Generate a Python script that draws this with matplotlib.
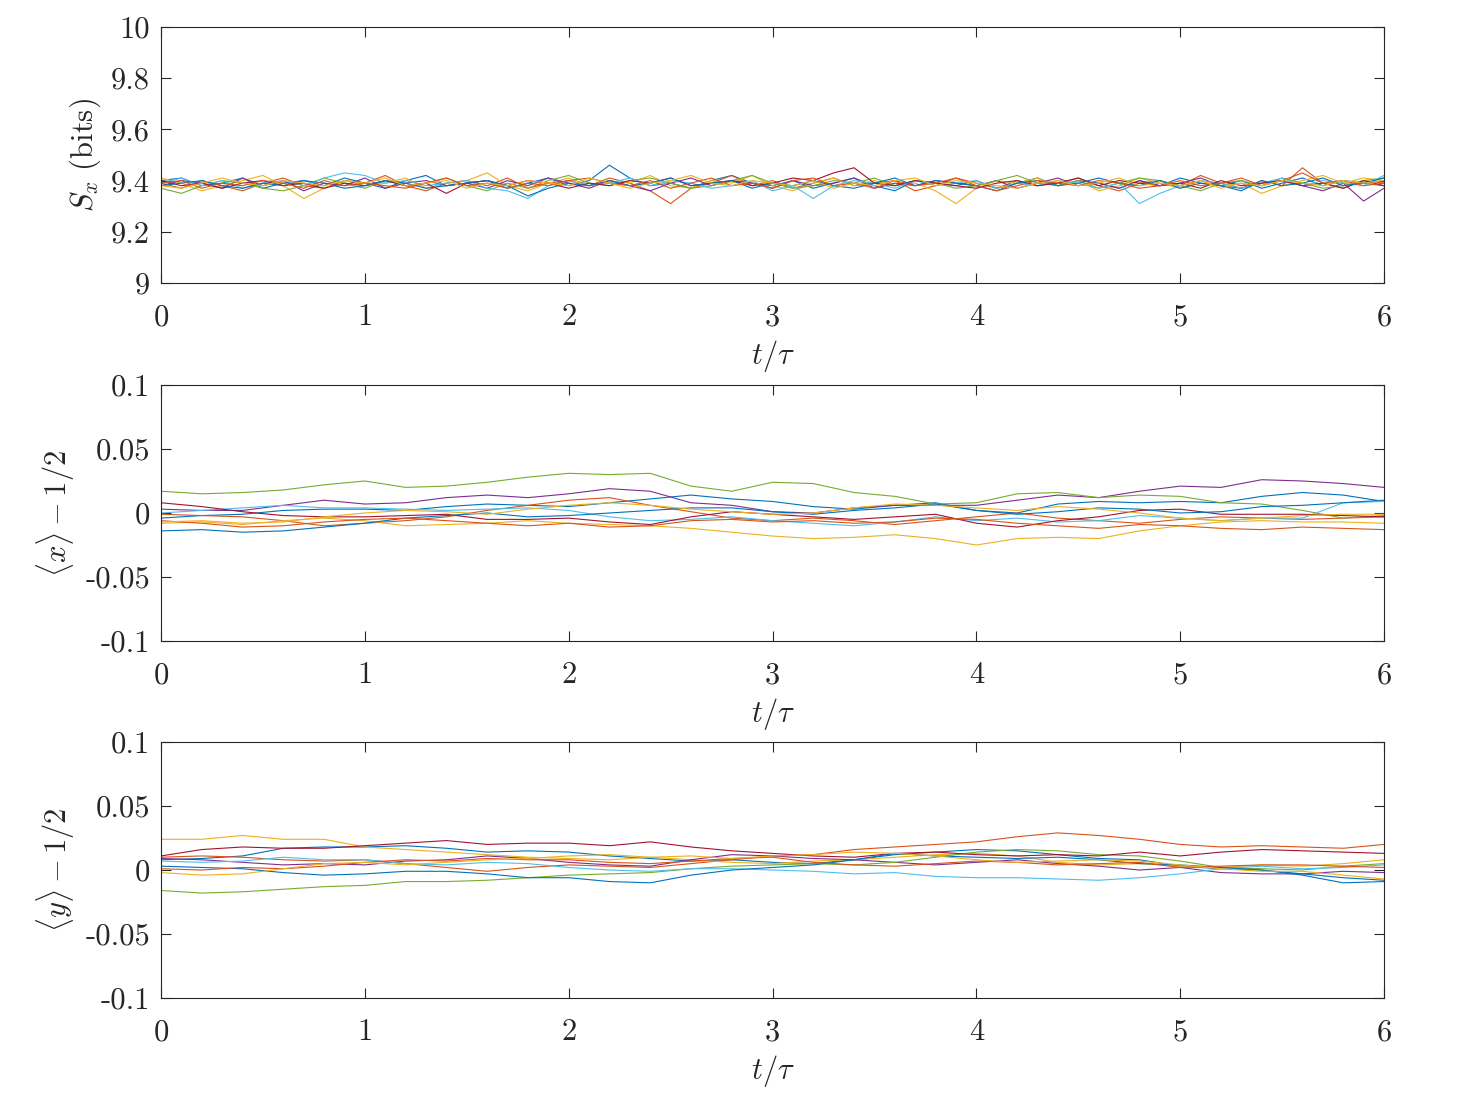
import matplotlib
matplotlib.use('Agg')
import matplotlib.pyplot as plt
import numpy as np

# MATLAB default colour order (10 runs -> 7 colours then wrap)
colors = ['#0072BD', '#D95319', '#EDB120', '#7E2F8E', '#77AC30',
          '#4DBEEE', '#A2142F', '#0072BD', '#D95319', '#EDB120']

# ---- panel 1: S_x (bits), sampled every 0.1 tau ----
sx_1 = [9.40,9.41,9.38,9.39,9.41,9.37,9.39,9.40,9.38,9.41,9.39,9.37,9.40,9.42,9.38,9.39,9.40,9.37,9.39,9.41,9.38,9.40,9.46,9.41,9.38,9.39,9.37,9.40,9.42,9.39,9.38,9.40,9.37,9.39,9.41,9.38,9.36,9.40,9.39,9.38,9.40,9.37,9.39,9.41,9.38,9.40,9.39,9.37,9.40,9.38,9.41,9.39,9.38,9.40,9.37,9.39,9.41,9.38,9.40,9.39,9.38]
sx_2 = [9.39,9.37,9.40,9.38,9.36,9.39,9.41,9.38,9.37,9.40,9.39,9.42,9.38,9.36,9.39,9.40,9.38,9.41,9.37,9.39,9.40,9.38,9.41,9.39,9.36,9.31,9.37,9.39,9.42,9.38,9.40,9.37,9.39,9.41,9.38,9.39,9.40,9.36,9.38,9.41,9.39,9.37,9.40,9.38,9.39,9.41,9.38,9.36,9.39,9.40,9.38,9.42,9.39,9.37,9.40,9.38,9.45,9.39,9.37,9.40,9.39]
sx_3 = [9.41,9.39,9.36,9.38,9.40,9.42,9.38,9.33,9.37,9.40,9.38,9.39,9.41,9.37,9.39,9.40,9.43,9.38,9.36,9.39,9.41,9.38,9.40,9.39,9.42,9.38,9.37,9.40,9.39,9.42,9.38,9.36,9.39,9.41,9.38,9.40,9.38,9.39,9.36,9.31,9.37,9.40,9.39,9.41,9.38,9.40,9.36,9.38,9.41,9.39,9.37,9.40,9.38,9.39,9.35,9.38,9.40,9.42,9.39,9.41,9.40]
sx_4 = [9.38,9.40,9.39,9.37,9.41,9.38,9.40,9.36,9.39,9.38,9.41,9.37,9.39,9.40,9.38,9.39,9.37,9.40,9.38,9.41,9.39,9.37,9.40,9.38,9.36,9.39,9.41,9.38,9.40,9.39,9.37,9.40,9.38,9.39,9.41,9.37,9.39,9.38,9.40,9.39,9.38,9.40,9.37,9.39,9.41,9.38,9.39,9.37,9.40,9.38,9.39,9.41,9.38,9.37,9.39,9.40,9.38,9.36,9.39,9.32,9.37]
sx_5 = [9.37,9.35,9.38,9.40,9.39,9.37,9.36,9.38,9.41,9.39,9.37,9.40,9.38,9.39,9.41,9.38,9.36,9.39,9.37,9.40,9.42,9.39,9.38,9.40,9.41,9.39,9.37,9.38,9.40,9.42,9.39,9.37,9.38,9.40,9.39,9.41,9.38,9.40,9.39,9.37,9.38,9.40,9.42,9.39,9.38,9.40,9.37,9.39,9.41,9.40,9.38,9.36,9.39,9.40,9.38,9.41,9.39,9.37,9.38,9.40,9.41]
sx_6 = [9.39,9.41,9.38,9.40,9.37,9.39,9.40,9.38,9.41,9.43,9.42,9.39,9.40,9.38,9.39,9.40,9.37,9.36,9.33,9.38,9.40,9.38,9.39,9.41,9.38,9.40,9.39,9.37,9.38,9.40,9.36,9.38,9.33,9.38,9.40,9.39,9.37,9.40,9.38,9.39,9.40,9.37,9.39,9.38,9.40,9.39,9.37,9.39,9.31,9.35,9.38,9.40,9.39,9.37,9.39,9.41,9.38,9.40,9.39,9.38,9.42]
sx_7 = [9.40,9.38,9.39,9.37,9.39,9.40,9.38,9.39,9.37,9.39,9.38,9.40,9.38,9.39,9.35,9.39,9.40,9.38,9.40,9.39,9.37,9.39,9.38,9.40,9.39,9.41,9.38,9.39,9.40,9.38,9.39,9.41,9.40,9.43,9.45,9.39,9.38,9.40,9.39,9.38,9.37,9.39,9.40,9.38,9.39,9.41,9.38,9.40,9.39,9.38,9.39,9.37,9.40,9.38,9.39,9.40,9.38,9.39,9.37,9.40,9.38]
sx_8 = [9.38,9.39,9.40,9.38,9.37,9.39,9.38,9.40,9.39,9.37,9.38,9.40,9.39,9.37,9.38,9.39,9.40,9.38,9.34,9.37,9.39,9.38,9.40,9.38,9.39,9.41,9.38,9.39,9.40,9.37,9.39,9.38,9.40,9.38,9.37,9.39,9.41,9.38,9.40,9.39,9.38,9.36,9.39,9.40,9.38,9.39,9.41,9.39,9.38,9.40,9.37,9.39,9.38,9.36,9.40,9.38,9.39,9.41,9.38,9.39,9.41]
sx_9 = [9.39,9.40,9.37,9.39,9.38,9.40,9.39,9.37,9.40,9.38,9.39,9.38,9.37,9.39,9.41,9.38,9.39,9.37,9.39,9.38,9.40,9.41,9.39,9.38,9.40,9.37,9.39,9.41,9.38,9.39,9.37,9.40,9.41,9.38,9.39,9.37,9.40,9.38,9.39,9.41,9.38,9.36,9.38,9.40,9.39,9.38,9.40,9.39,9.37,9.38,9.40,9.38,9.39,9.41,9.38,9.40,9.43,9.39,9.40,9.38,9.39]
sx_10 = [9.38,9.37,9.39,9.41,9.39,9.38,9.40,9.39,9.38,9.40,9.39,9.41,9.38,9.39,9.40,9.37,9.39,9.38,9.40,9.39,9.38,9.41,9.39,9.37,9.39,9.40,9.42,9.39,9.38,9.40,9.39,9.38,9.40,9.37,9.39,9.38,9.40,9.41,9.38,9.40,9.39,9.38,9.37,9.39,9.40,9.38,9.39,9.41,9.38,9.39,9.38,9.40,9.37,9.39,9.38,9.40,9.39,9.38,9.40,9.39,9.40]

# ---- panel 2: <x> - 1/2, sampled every 0.2 tau ----
mx_1 = [-0.004,-0.002,-0.001,0.002,0.003,0.003,0.002,0.005,0.007,0.006,0.005,0.008,0.011,0.014,0.011,0.009,0.005,0.003,0.006,0.008,0.002,0.000,0.007,0.009,0.008,0.009,0.008,0.013,0.016,0.014,0.009]
mx_2 = [-0.001,-0.002,-0.003,-0.006,-0.010,-0.008,-0.006,-0.003,0.002,0.006,0.010,0.012,0.006,0.001,-0.004,-0.006,-0.004,-0.006,-0.009,-0.006,-0.003,0.000,-0.004,-0.006,-0.008,-0.005,-0.003,-0.004,-0.005,-0.004,-0.003]
mx_3 = [-0.008,-0.007,-0.009,-0.006,-0.004,-0.006,-0.010,-0.009,-0.008,-0.006,-0.008,-0.009,-0.010,-0.012,-0.015,-0.018,-0.020,-0.019,-0.017,-0.020,-0.025,-0.020,-0.019,-0.020,-0.014,-0.010,-0.007,-0.006,-0.007,-0.007,-0.008]
mx_4 = [0.003,0.002,0.002,0.006,0.010,0.007,0.008,0.012,0.014,0.012,0.015,0.019,0.017,0.008,0.006,0.001,0.000,0.004,0.006,0.006,0.006,0.010,0.014,0.012,0.017,0.021,0.020,0.026,0.025,0.023,0.020]
mx_5 = [0.017,0.015,0.016,0.018,0.022,0.025,0.020,0.021,0.024,0.028,0.031,0.030,0.031,0.021,0.017,0.024,0.023,0.016,0.013,0.007,0.008,0.015,0.016,0.012,0.014,0.013,0.008,0.007,0.002,-0.004,-0.002]
mx_6 = [0.000,0.002,0.004,0.006,0.004,0.004,0.003,0.002,0.003,0.004,0.002,-0.003,-0.006,-0.005,-0.003,-0.006,-0.008,-0.010,-0.007,-0.003,-0.006,-0.004,-0.007,-0.006,-0.002,-0.004,-0.006,-0.004,-0.004,0.008,0.009]
mx_7 = [0.008,0.005,0.001,-0.002,-0.003,-0.003,-0.002,-0.001,-0.005,-0.005,-0.004,-0.007,-0.009,-0.003,0.001,-0.001,-0.003,-0.005,-0.003,-0.001,-0.008,-0.011,-0.006,-0.003,0.002,0.003,-0.001,-0.001,-0.001,-0.002,-0.003]
mx_8 = [-0.014,-0.013,-0.015,-0.014,-0.011,-0.008,-0.004,-0.002,0.000,-0.003,-0.002,0.000,0.002,0.004,0.004,0.001,-0.001,0.002,0.004,0.007,0.002,-0.001,0.001,0.004,0.003,0.000,0.001,0.005,0.006,0.008,0.010]
mx_9 = [-0.006,-0.008,-0.011,-0.010,-0.007,-0.005,-0.004,-0.006,-0.008,-0.010,-0.008,-0.011,-0.010,-0.006,-0.005,-0.007,-0.006,-0.008,-0.007,-0.004,-0.005,-0.008,-0.010,-0.012,-0.009,-0.010,-0.012,-0.013,-0.011,-0.012,-0.013]
mx_10 = [-0.007,-0.006,-0.008,-0.007,-0.003,0.000,0.002,0.001,-0.001,0.003,0.006,0.008,0.006,0.003,0.001,-0.001,0.000,0.004,0.007,0.006,0.004,0.002,0.005,0.003,0.000,-0.004,-0.006,-0.004,-0.002,-0.001,-0.001]

# ---- panel 3: <y> - 1/2, sampled every 0.2 tau ----
my_1 = [0.008,0.009,0.011,0.017,0.018,0.018,0.019,0.017,0.014,0.015,0.014,0.011,0.009,0.007,0.008,0.006,0.005,0.008,0.012,0.014,0.016,0.015,0.012,0.009,0.008,0.003,0.001,0.000,-0.003,-0.006,-0.008]
my_2 = [0.010,0.011,0.010,0.008,0.007,0.008,0.005,0.002,-0.001,0.002,0.004,0.003,0.002,0.005,0.008,0.011,0.012,0.016,0.018,0.020,0.022,0.026,0.029,0.027,0.024,0.020,0.018,0.019,0.018,0.017,0.020]
my_3 = [0.024,0.024,0.027,0.024,0.024,0.018,0.016,0.014,0.012,0.010,0.009,0.008,0.010,0.008,0.006,0.005,0.007,0.008,0.010,0.012,0.013,0.011,0.006,0.004,0.005,0.003,0.002,0.004,0.003,0.005,0.008]
my_4 = [0.009,0.008,0.006,0.004,0.005,0.004,0.007,0.008,0.011,0.009,0.006,0.004,0.003,0.008,0.012,0.011,0.009,0.008,0.006,0.004,0.006,0.008,0.005,0.003,0.000,0.002,-0.002,-0.003,-0.003,-0.001,-0.002]
my_5 = [-0.016,-0.018,-0.017,-0.015,-0.013,-0.012,-0.009,-0.009,-0.008,-0.006,-0.004,-0.003,-0.002,0.001,0.003,0.004,0.005,0.004,0.006,0.010,0.014,0.016,0.015,0.012,0.011,0.007,0.002,0.001,0.000,0.003,0.005]
my_6 = [0.007,0.006,0.007,0.010,0.008,0.008,0.005,0.004,0.006,0.005,0.002,0.000,-0.001,0.001,0.001,0.000,-0.001,-0.003,-0.002,-0.005,-0.006,-0.006,-0.007,-0.008,-0.006,-0.003,0.001,0.003,0.001,0.002,0.004]
my_7 = [0.011,0.016,0.018,0.017,0.017,0.019,0.021,0.023,0.020,0.021,0.021,0.019,0.022,0.018,0.015,0.013,0.011,0.010,0.013,0.014,0.012,0.011,0.012,0.011,0.014,0.011,0.014,0.016,0.015,0.014,0.013]
my_8 = [0.003,0.002,0.001,-0.002,-0.004,-0.003,-0.001,-0.001,-0.003,-0.006,-0.006,-0.009,-0.010,-0.004,0.000,0.002,0.004,0.008,0.013,0.011,0.010,0.009,0.010,0.008,0.005,0.004,0.002,0.000,-0.004,-0.010,-0.009]
my_9 = [0.001,0.000,0.002,0.001,0.003,0.006,0.008,0.007,0.009,0.008,0.008,0.006,0.005,0.007,0.009,0.010,0.006,0.004,0.003,0.005,0.007,0.006,0.004,0.005,0.006,0.002,0.003,0.004,0.004,0.003,0.002]
my_10 = [-0.002,-0.004,-0.003,0.001,0.005,0.006,0.004,0.006,0.008,0.009,0.011,0.012,0.010,0.011,0.009,0.011,0.012,0.014,0.013,0.011,0.008,0.006,0.007,0.008,0.007,0.004,0.001,-0.001,-0.001,-0.004,-0.007]

sx_runs = [sx_1, sx_2, sx_3, sx_4, sx_5, sx_6, sx_7, sx_8, sx_9, sx_10]
mx_runs = [mx_1, mx_2, mx_3, mx_4, mx_5, mx_6, mx_7, mx_8, mx_9, mx_10]
my_runs = [my_1, my_2, my_3, my_4, my_5, my_6, my_7, my_8, my_9, my_10]

x_ticks = [0, 1, 2, 3, 4, 5, 6]
sx_ticks = [9, 9.2, 9.4, 9.6, 9.8, 10]
sx_ticklabels = ['9', '9.2', '9.4', '9.6', '9.8', '10']
m_ticks = [-0.1, -0.05, 0, 0.05, 0.1]
m_ticklabels = ['-0.1', '-0.05', '0', '0.05', '0.1']

plt.rcParams['font.family'] = 'cmr10'
plt.rcParams['mathtext.fontset'] = 'cm'
plt.rcParams['axes.unicode_minus'] = False
plt.rcParams['font.size'] = 22

fig = plt.figure(figsize=(14.61, 11.05), dpi=100)

panels = [
    (0.7439, sx_runs, (9, 10), sx_ticks, sx_ticklabels, r'$S_x\ \mathrm{(bits)}$'),
    (0.4199, mx_runs, (-0.1, 0.1), m_ticks, m_ticklabels, r'$\langle x\rangle - 1/2$'),
    (0.0968, my_runs, (-0.1, 0.1), m_ticks, m_ticklabels, r'$\langle y\rangle - 1/2$'),
]

for bottom, runs, ylim, yt, ytl, ylab in panels:
    ax = fig.add_axes([0.1102, bottom, 0.8371, 0.2317])
    for k, y in enumerate(runs):
        t = np.linspace(0, 6, len(y))
        ax.plot(t, y, color=colors[k], lw=0.8)
    ax.set_xlim(0, 6)
    ax.set_ylim(*ylim)
    ax.set_xticks(x_ticks)
    ax.set_xticklabels([str(v) for v in x_ticks])
    ax.set_yticks(yt)
    ax.set_yticklabels(ytl)
    ax.tick_params(direction='in', length=7, width=0.8, top=True, right=True,
                   colors='#262626', labelcolor='#262626')
    ax.tick_params(axis='x', pad=15)
    ax.tick_params(axis='y', pad=8)
    for sp in ax.spines.values():
        sp.set_linewidth(0.8)
        sp.set_color('#262626')
    ax.set_xlabel(r'$t/\tau$', labelpad=5, color='#262626')
    ax.set_ylabel(ylab, labelpad=6, color='#262626')

fig.savefig('out.png', dpi=100)
